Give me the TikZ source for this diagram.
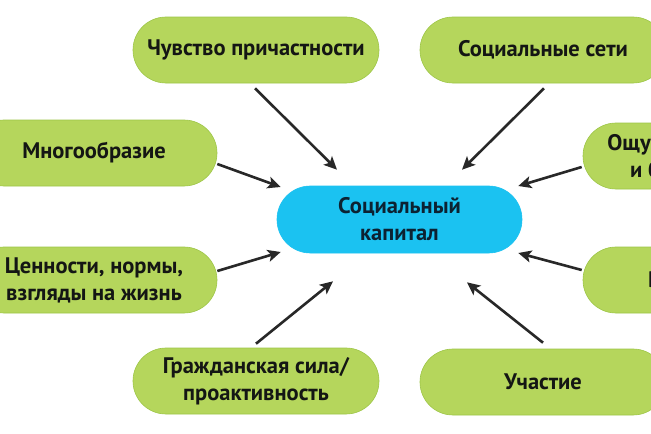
\documentclass[tikz,border=0pt]{standalone}
\usepackage{fontspec}
\setmainfont{PT Sans}
\usetikzlibrary{arrows.meta}
\definecolor{leaf}{RGB}{181,214,92}
\definecolor{leafedge}{RGB}{158,198,72}
\definecolor{sky}{RGB}{27,194,241}
\definecolor{ink}{RGB}{20,22,20}
\definecolor{skyink}{RGB}{12,34,50}
\definecolor{arrowgray}{RGB}{40,40,40}

\begin{document}
\begin{tikzpicture}[x=1pt,y=-1pt,
  pill/.style={rectangle, rounded corners=32.9pt, minimum width=246pt, minimum height=66pt,
    fill=leaf, draw=leafedge, line width=0.6pt, text=ink, align=center, inner sep=0pt,
    font=\fontsize{22.5}{27}\selectfont\bfseries},
  hub/.style={pill, fill=sky, draw=sky, text=skyink, minimum width=245pt, minimum height=67pt,
    rounded corners=33.4pt},
  link/.style={-{Stealth[length=13pt,width=12pt,inset=3pt]}, line width=2.6pt, draw=arrowgray}]
\clip (0,0) rectangle (651,434);
\fill[white] (0,0) rectangle (651,434);
\node[hub] (cap) at (399.5,219.5) {Социальный\\капитал};
\node[pill] (chuv) at (256,50) {Чувство причастности};
\node[pill] (seti) at (543,50) {Социальные сети};
\node[pill] (mnog) at (94,153) {Многообразие};
\node[pill] (ower) at (706,156) {Ощущение доверия\\и безопасности};
\node[pill] (tsen) at (94,280) {Ценности, нормы,\\взгляды на жизнь};
\node[pill] (vzaim) at (706,280) {Взаимность};
\node[pill] (grazh) at (256,381) {Гражданская сила/\\проактивность};
\node[pill] (uch) at (543,382) {Участие};
\draw[link] ([xshift=-1pt,yshift=-5pt]chuv.south) -- ([xshift=-62.5pt,yshift=16pt]cap.north);
\draw[link] ([xshift=1pt,yshift=-5pt]seti.south) -- ([xshift=62.5pt,yshift=16pt]cap.north);
\draw[link] ([yshift=-11pt]mnog.east) -- ([xshift=4pt,yshift=32.5pt]cap.west);
\draw[link] ([xshift=-1pt,yshift=-11pt]ower.west) -- ([xshift=-4pt,yshift=33.5pt]cap.east);
\draw[link] ([yshift=9pt]tsen.east) -- ([xshift=4pt,yshift=-32.5pt]cap.west);
\draw[link] ([xshift=-1pt,yshift=10pt]vzaim.west) -- ([xshift=-4pt,yshift=-33.5pt]cap.east);
\draw[link] ([yshift=4pt]grazh.north) -- ([xshift=-66.5pt,yshift=-28pt]cap.south);
\draw[link] ([yshift=6pt]uch.north) -- ([xshift=67.5pt,yshift=-29pt]cap.south);
\end{tikzpicture}
\end{document}
